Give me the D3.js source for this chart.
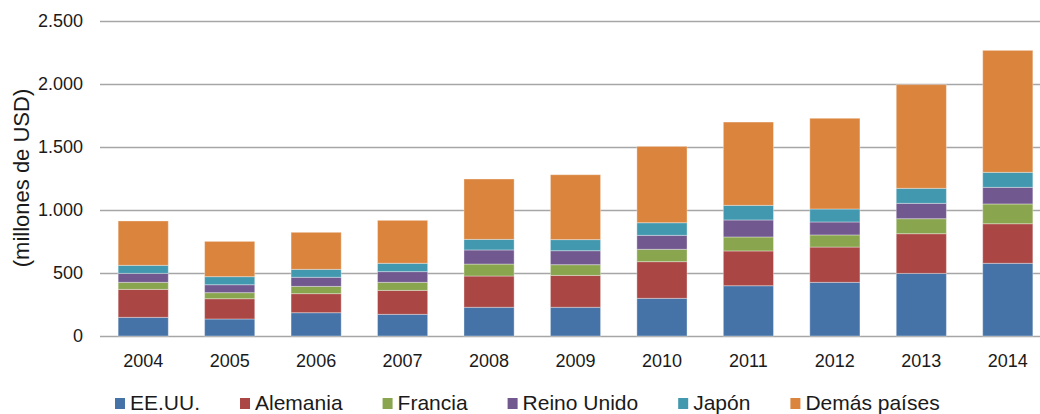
<!DOCTYPE html>
<html>
<head>
<meta charset="utf-8">
<script src="https://cdn.jsdelivr.net/npm/d3@7"></script>
<style>
  html, body { margin: 0; padding: 0; background: #fff; }
  svg { display: block; }
  text { font-family: "Liberation Sans", Arial, sans-serif; fill: #1a1a1a; }
</style>
</head>
<body>
<svg id="chart" width="1040" height="414"></svg>
<script>
const years = ["2004","2005","2006","2007","2008","2009","2010","2011","2012","2013","2014"];
const seriesNames = ["EE.UU.","Alemania","Francia","Reino Unido","Japón","Demás países"];
const seriesColors = ["#4572A7","#AA4643","#89A54E","#71588F","#4198AF","#DB843D"];
const eeuu       = [148, 135, 185, 172, 228, 228, 299, 399, 426, 497, 577];
const alemania   = [222, 161, 151, 190, 248, 253, 291, 276, 280, 315, 314];
const francia    = [ 56,  48,  58,  64,  95,  85,  98, 111,  96, 119, 157];
const reinoUnido = [ 71,  63,  72,  85, 112, 111, 111, 135, 103, 122, 132];
const japon      = [ 64,  64,  63,  66,  84,  88, 100, 116, 103, 119, 119];
const demas      = [352, 280, 294, 341, 479, 515, 606, 661, 720, 823, 968];
const yTicks = [0, 500, 1000, 1500, 2000, 2500];
const yTickLabels = ["0","500","1.000","1.500","2.000","2.500"];
const yTitle = "(millones de USD)";

const seriesValues = [eeuu, alemania, francia, reinoUnido, japon, demas];
const table = years.map((yr, i) => {
  const row = { year: yr };
  seriesNames.forEach((s, k) => row[s] = seriesValues[k][i]);
  return row;
});

const svg = d3.select("#chart");
const plotLeft = 100, plotRight = 1051, plotTop = 21, plotBottom = 336;

const x = d3.scaleBand().domain(years).range([plotLeft, plotRight]).paddingInner(0.42).paddingOuter(0.21);
const y = d3.scaleLinear().domain([0, 2500]).range([plotBottom, plotTop]);

// gridlines
svg.append("g").selectAll("line").data(yTicks).join("line")
  .attr("x1", plotLeft).attr("x2", 1040)
  .attr("y1", d => Math.round(y(d)) + 0.5).attr("y2", d => Math.round(y(d)) + 0.5)
  .attr("stroke", "#a6a6a6").attr("stroke-width", 1.6);

// y tick labels
svg.append("g").selectAll("text").data(yTicks).join("text")
  .attr("x", 83).attr("y", d => y(d))
  .attr("dy", "0.36em")
  .attr("text-anchor", "end")
  .style("font-size", "18px")
  .text((d, i) => yTickLabels[i]);

// stacked bars
const stacked = d3.stack().keys(seriesNames)(table);
svg.append("g").selectAll("g").data(stacked).join("g")
  .attr("fill", (d, i) => seriesColors[i])
  .selectAll("rect").data(d => d).join("rect")
  .attr("x", d => x(d.data.year))
  .attr("width", x.bandwidth())
  .attr("y", d => y(d[1]))
  .attr("height", d => y(d[0]) - y(d[1]))
  .attr("stroke", "rgba(255,255,255,0.35)")
  .attr("stroke-width", 1);

// x labels
svg.append("g").selectAll("text").data(years).join("text")
  .attr("x", d => x(d) + x.bandwidth() / 2)
  .attr("y", 367)
  .attr("text-anchor", "middle")
  .style("font-size", "18px")
  .text(d => d);

// y title
svg.append("text")
  .attr("transform", "translate(29,178) rotate(-90)")
  .attr("text-anchor", "middle")
  .style("font-size", "22px")
  .text(yTitle);

// legend
const legend = svg.append("g");
let lx = 115;
seriesNames.forEach((s, i) => {
  legend.append("rect")
    .attr("x", lx).attr("y", 398).attr("width", 10).attr("height", 11)
    .attr("fill", seriesColors[i]);
  const t = legend.append("text")
    .attr("x", lx + 15).attr("y", 410)
    .style("font-size", "21px")
    .text(s);
  lx += 15 + t.node().getComputedTextLength() + 40;
});
</script>
</body>
</html>
